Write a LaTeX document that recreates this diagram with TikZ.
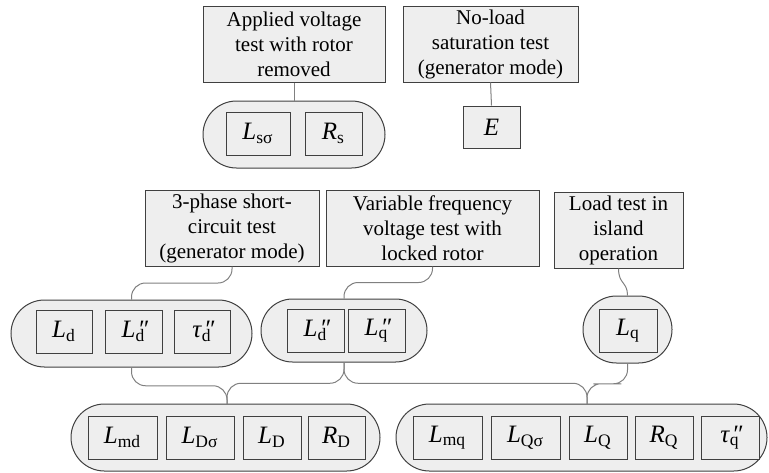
\documentclass[tikz,border=0pt]{standalone}
\usepackage{fontspec}
\setmainfont{Liberation Serif}
\usetikzlibrary{shapes.misc,calc,positioning}

\definecolor{boxfill}{HTML}{EEEEEE}
\definecolor{boxline}{HTML}{404040}
\definecolor{linkline}{HTML}{808080}

% parameter symbols: italic letter, upright subscript
\newcommand\param[2]{\textit{#1}\textsubscript{#2}}
\newcommand\paramdp[2]{\textit{#1}\rlap{\kern0.08em\textit{″}}\textsubscript{#2}}

\tikzset{
  test/.style={draw=boxline, fill=boxfill, align=center, inner sep=1pt,
    minimum height=38pt, font=\fontsize{10.5}{12.5}\selectfont},
  capsule/.style={rounded rectangle, draw=boxline, fill=boxfill,
    minimum height=33.5pt, inner sep=0pt},
  sym/.style={draw=boxline, fill=boxfill, minimum height=21.5pt,
    inner sep=0pt, font=\fontsize{12.5}{14}\selectfont},
  link/.style={draw=linkline, rounded corners=7pt}
}

\begin{document}
\begin{tikzpicture}[x=0.5pt, y=-0.5pt, line width=0.5pt]
  \useasboundingbox (0,0) rectangle (769,472);

  % tests
  \node[test, minimum width=91pt]   (appl)   at (294,44)    {Applied voltage\\test with rotor\\removed};
  \node[test, minimum width=87.5pt] (noload) at (490.5,44)  {No-load\\saturation test\\(generator mode)};
  \node[test, minimum width=87pt]   (short)  at (232,228)   {3-phase short-\\circuit test\\(generator mode)};
  \node[test, minimum width=106.5pt](varf)   at (432.5,228) {Variable frequency\\voltage test with\\locked rotor};
  \node[test, minimum width=64.5pt] (load)   at (618.5,230) {Load test in\\island\\operation};

  % groups of results
  \node[capsule, minimum width=91pt]    (capS) at (294,134.5)   {};
  \node[capsule, minimum width=120.5pt] (capA) at (131.5,333.5) {};
  \node[capsule, minimum width=83pt, minimum height=31.5pt] (capB) at (344,330.5) {};
  \node[capsule, minimum width=44.5pt]  (capC) at (627.5,329.5) {};
  \node[capsule, minimum width=154.5pt] (capD) at (225.5,437.5) {};
  \node[capsule, minimum width=185.5pt] (capE) at (581.5,437.5) {};

  % parameters
  \node[sym, minimum width=32pt]   (Lss)  at (258,133.5)   {\param{L}{sσ}};
  \node[sym, minimum width=28.5pt] (Rs)   at (333.5,133.5) {\param{R}{s}};
  \node[sym, minimum width=28.5pt, minimum height=21pt] (E) at (491.5,127) {\textit{E}};

  \node[sym, minimum width=28pt]   (Ld)   at (64,331.5)    {\param{L}{d}};
  \node[sym, minimum width=28.5pt] (Ldpp) at (133.5,331.5) {\paramdp{L}{d}};
  \node[sym, minimum width=28pt]   (taud) at (202,331.5)   {\paramdp{τ}{d}};

  \node[sym, minimum width=28.5pt] (LdppB) at (315.5,330.5) {\paramdp{L}{d}};
  \node[sym, minimum width=28.5pt] (Lqpp)  at (376.5,330.5) {\paramdp{L}{q}};
  \node[sym, minimum width=29pt]   (Lq)    at (628,330.5)   {\param{L}{q}};

  \node[sym, minimum width=34.5pt] (Lmd) at (122.5,437.5) {\param{L}{md}};
  \node[sym, minimum width=34pt]   (LDs) at (200,437.5)   {\param{L}{Dσ}};
  \node[sym, minimum width=29pt]   (LD)  at (272,437.5)   {\param{L}{D}};
  \node[sym, minimum width=28.5pt] (RD)  at (336.5,437.5) {\param{R}{D}};

  \node[sym, minimum width=34.5pt] (Lmq)  at (447.5,437.5) {\param{L}{mq}};
  \node[sym, minimum width=34.5pt] (LQs)  at (525.5,437.5) {\param{L}{Qσ}};
  \node[sym, minimum width=29pt]   (LQ)   at (598,437.5)   {\param{L}{Q}};
  \node[sym, minimum width=29pt]   (RQ)   at (664,437.5)   {\param{R}{Q}};
  \node[sym, minimum width=29pt]   (tauq) at (730,437.5)   {\paramdp{τ}{q}};

  % joints on top of the lower groups
  \coordinate (jD) at (227,404);
  \coordinate (jE) at (587,404);

  % links
  \draw[linkline] (appl.south) -- (capS.north);
  \draw[linkline] (noload.south) -- (E.north);
  \draw[link] (short.south) |- ($(short.south)!.5!(capA.north)$) -| (capA.north);
  \draw[link] (varf.south) |- ($(varf.south)!.5!(capB.north)$) -| (capB.north);
  \draw[linkline] (load.south) .. controls +(0,16) and +(0,-14) .. (capC.north);

  \draw[link] (capA.south) |- ($(capA.south)!.5!(jD)$) -| (jD);
  \draw[link] (capB.south) |- ($(capB.south)!.5!(jD)$) -| (jD);
  \draw[link] (capB.south) |- ($(capB.south)!.5!(jE)$) -| (jE);
  \draw[link] (capC.south) |- ($(capC.south)!.5!(jE)$) -| (jE);
\end{tikzpicture}
\end{document}
